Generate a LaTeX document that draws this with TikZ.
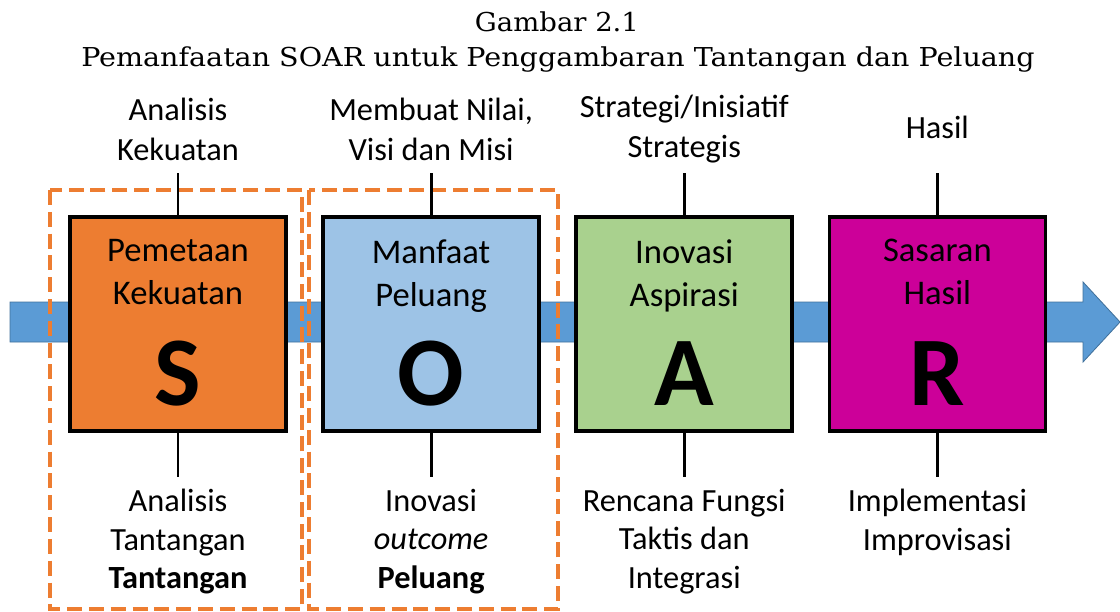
\documentclass[tikz,border=0pt]{standalone}
\usepackage{graphicx}
\usepackage{fontspec}
\setmainfont{Carlito}
\newfontfamily\captionfont{DejaVu Serif}
\usetikzlibrary{positioning}
\definecolor{strength}{HTML}{ED7D31}
\definecolor{opportunity}{HTML}{9DC3E6}
\definecolor{aspiration}{HTML}{A9D18E}
\definecolor{result}{HTML}{CC0099}
\definecolor{flow}{HTML}{5B9BD5}
\definecolor{flowedge}{HTML}{41719C}

\begin{document}
\begin{tikzpicture}[
    x=0.025cm, y=-0.025cm,
    node distance=0.835cm,
    soarbox/.style={rectangle, draw, line width=2.6pt, minimum width=5.4cm, minimum height=5.35cm, inner sep=0pt},
    boxtitle/.style={align=center, inner sep=0pt, font=\fontsize{24.6}{30.5}\selectfont},
    letter/.style={inner sep=0pt, font=\fontsize{70}{70}\selectfont\bfseries},
    toplabel/.style={align=center, inner sep=0pt, font=\fontsize{23}{28.4}\selectfont},
    botlabel/.style={align=center, inner sep=0pt, font=\fontsize{23}{27.4}\selectfont},
    caption/.style={anchor=base, inner sep=0pt, font=\captionfont\fontsize{18.5}{22}\selectfont},
    stem/.style={line width=2pt},
    group/.style={draw=strength, line width=2.8pt, dash pattern=on 0.375cm off 0.17cm},
    band/.style={fill=flow, draw=flowedge, line width=0.6pt},
]
\useasboundingbox (0,0) rectangle (1120,612);

% Caption
\node[caption] (fig-no) at (557,31) {\resizebox{4.1cm}{\height}{Gambar 2.1}};
\node[caption] (fig-title) at (558,66) {\resizebox{23.83cm}{\height}{Pemanfaatan SOAR untuk Penggambaran Tantangan dan Peluang}};

% Flow arrow
\draw[band] (10,302) -- (1083,302) -- (1083,282) -- (1120,322) -- (1083,362) -- (1083,342) -- (10,342) -- cycle;

% Challenge and opportunity groups
\draw[group] (50,190) rectangle (302,609);
\draw[group] (309,190) rectangle (558,609);

% SOAR boxes
\node[soarbox, fill=strength] (s) at (178,324) {};
\node[soarbox, fill=opportunity, right=of s] (o) {};
\node[soarbox, fill=aspiration, right=of o] (a) {};
\node[soarbox, fill=result, right=of a] (r) {};

% Box titles
\node[boxtitle, below=0.6cm of s.north] (s-title) {Pemetaan\\Kekuatan};
\node[boxtitle, below=0.6cm of o.north] (o-title) {Manfaat\\Peluang};
\node[boxtitle, below=0.6cm of a.north] (a-title) {Inovasi\\Aspirasi};
\node[boxtitle, below=0.6cm of r.north] (r-title) {Sasaran\\Hasil};

% Letters
\node[letter, above=0.675cm of s.south, anchor=base] (s-letter) {S};
\node[letter, above=0.675cm of o.south, anchor=base] (o-letter) {O};
\node[letter, above=0.675cm of a.south, anchor=base] (a-letter) {A};
\node[letter, above=0.675cm of r.south, anchor=base] (r-letter) {R};

% Stems
\foreach \n in {s,o,a,r} {
    \coordinate[above=1.05cm of \n.north] (\n-up);
    \coordinate[below=1.1cm of \n.south] (\n-down);
    \draw[stem] (\n.north) -- (\n-up);
    \draw[stem] (\n.south) -- (\n-down);
}

% Labels above
\node[toplabel, above=1.1cm of s-up, anchor=center] (s-aim) {Analisis\\Kekuatan};
\node[toplabel, above=1.1cm of o-up, anchor=center] (o-aim) {Membuat Nilai,\\Visi dan Misi};
\node[toplabel, above=1.1cm of a-up, anchor=center] (a-aim) {Strategi/Inisiatif\\Strategis};
\node[toplabel, above=1.15cm of r-up, anchor=center] (r-aim) {Hasil};

% Labels below
\node[botlabel, below=0.3cm of s-down] (s-note) {Analisis\\Tantangan\\\textbf{Tantangan}};
\node[botlabel, below=0.3cm of o-down] (o-note) {Inovasi\\\textit{outcome}\\\textbf{Peluang}};
\node[botlabel, below=0.3cm of a-down] (a-note) {Rencana Fungsi\\Taktis dan\\Integrasi};
\node[botlabel, below=0.3cm of r-down] (r-note) {Implementasi\\Improvisasi};

\end{tikzpicture}
\end{document}
